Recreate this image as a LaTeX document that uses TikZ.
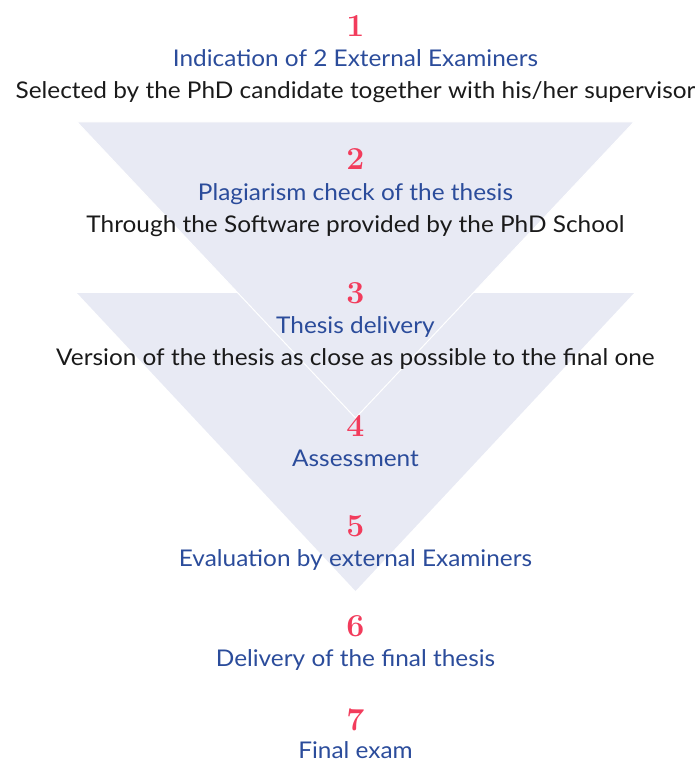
\documentclass[tikz,border=0pt]{standalone}
\usepackage{fontspec}
\setsansfont{Lato}[FakeStretch=1.06]
\definecolor{trifill}{HTML}{E8EAF4}
\definecolor{stepblue}{HTML}{2B4C9B}
\definecolor{stepred}{HTML}{F23C5C}
\definecolor{subtext}{HTML}{1A1A1A}
\begin{document}
\begin{tikzpicture}[x=1pt,y=-1pt,
  num/.style={anchor=base,inner sep=0pt,text=stepred,font=\rmfamily\bfseries\fontsize{32}{32}\selectfont},
  title/.style={anchor=base,inner sep=0pt,text=stepblue,font=\sffamily\fontsize{23}{23}\selectfont},
  sub/.style={anchor=base,inner sep=0pt,text=subtext,font=\sffamily\fontsize{23}{23}\selectfont},
  tri/.style={fill=trifill}]
\useasboundingbox (0,0) rectangle (695,762);
\fill[tri] (77,293) -- (634,293) -- (355.5,591) -- cycle;
\filldraw[tri,draw=white,line width=1pt] (77,122) -- (634,122) -- (355.5,418) -- cycle;
\node[num] (n1) at (355.5,37) {1};
\node[title] (t1) at (355.5,67) {Indication of 2 External Examiners};
\node[sub] (s1) at (355.5,99) {Selected by the PhD candidate together with his/her supervisor};
\node[num] (n2) at (355.5,170) {2};
\node[title] (t2) at (355.5,200) {Plagiarism check of the thesis};
\node[sub] (s2) at (355.5,232) {Through the Software provided by the PhD School};
\node[num] (n3) at (355.5,303) {3};
\node[title] (t3) at (355.5,333) {Thesis delivery};
\node[sub] (s3) at (355.5,365) {Version of the thesis as close as possible to the final one};
\node[num] (n4) at (355.5,436) {4};
\node[title] (t4) at (355.5,466) {Assessment};
\node[num] (n5) at (355.5,536) {5};
\node[title] (t5) at (355.5,566) {Evaluation by external Examiners};
\node[num] (n6) at (355.5,636) {6};
\node[title] (t6) at (355.5,666) {Delivery of the final thesis};
\node[num] (n7) at (355.5,730) {7};
\node[title] (t7) at (355.5,758) {Final exam};
\end{tikzpicture}
\end{document}
